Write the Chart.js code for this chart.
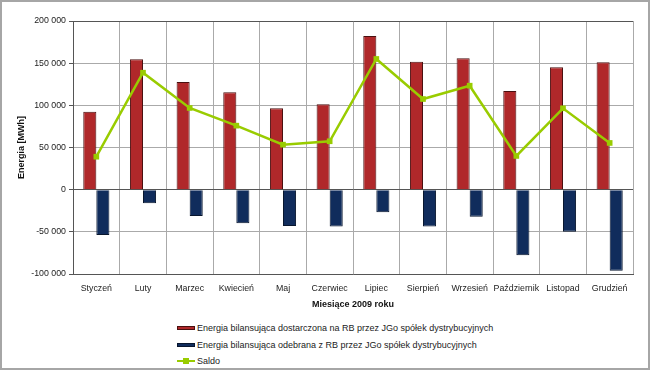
<!DOCTYPE html>
<html>
<head>
<meta charset="utf-8">
<script src="https://cdn.jsdelivr.net/npm/chart.js@4"></script>
<style>
  html, body { margin: 0; padding: 0; background: #fff; }
  #frame {
    position: relative; width: 650px; height: 370px; box-sizing: border-box;
    border: 2px solid #a6a6a6; background: #fff;
    font-family: "Liberation Sans", Arial, sans-serif;
  }
  #chart { position: absolute; left: 0; top: 0; }
  #legend { position: absolute; left: 175px; top: 318px; font-size: 9px; color: #222; }
  .item { height: 16.5px; display: flex; align-items: center; }
  .swatch { width: 18px; height: 4px; margin-right: 2px; box-sizing: border-box; }
  .line { position: relative; width: 18px; height: 2px; margin-right: 2px; }
  .line span { position: absolute; left: 6px; top: -2px; width: 6px; height: 6px; }
</style>
</head>
<body>
<div id="frame">
  <canvas id="chart" width="646" height="316"></canvas>
  <div id="legend"></div>
</div>
<script>
const months = ["Styczeń", "Luty", "Marzec", "Kwiecień", "Maj", "Czerwiec",
  "Lipiec", "Sierpień", "Wrzesień", "Październik", "Listopad", "Grudzień"];

// energia dostarczona (MWh)
const supplied = [92500, 154600, 127700, 115500, 96500, 101300, 182300, 151800, 155800, 117000, 145100, 151000];
// energia odebrana (MWh)
const received = [-53700, -16100, -31200, -39900, -43000, -43800, -26800, -43800, -32000, -77800, -49800, -96000];
// saldo
const saldo = [39100, 138700, 96900, 75900, 53400, 57400, 155000, 107500, 123300, 40000, 96500, 55400];

const seriesLabels = [
  "Energia bilansująca dostarczona na RB przez JGo spółek dystrybucyjnych",
  "Energia bilansująca odebrana z RB przez JGo spółek dystrybucyjnych",
  "Saldo"
];

const RED = "#B0282A", BLUE = "#102C5C", GREEN = "#99CC00";
const FONT = "'Liberation Sans', Arial, sans-serif";

function fmt(v) {
  const s = Math.abs(v).toString().replace(/\B(?=(\d{3})+(?!\d))/g, " ");
  return (v < 0 ? "-" : "") + s;
}

new Chart(document.getElementById("chart"), {
  type: "bar",
  data: {
    labels: months,
    datasets: [
      { label: seriesLabels[0], data: supplied, backgroundColor: RED, borderColor: "#4a1010",
        borderWidth: 1, order: 1, categoryPercentage: 0.56, barPercentage: 1 },
      { label: seriesLabels[1], data: received, backgroundColor: BLUE, borderColor: "#08162e",
        borderWidth: 1, order: 2, categoryPercentage: 0.56, barPercentage: 1 },
      { label: seriesLabels[2], data: saldo, type: "line", order: 0,
        borderColor: GREEN, backgroundColor: GREEN, borderWidth: 2.5,
        pointStyle: "rect", pointRadius: 4, pointBackgroundColor: GREEN, pointBorderWidth: 0,
        tension: 0 }
    ]
  },
  options: {
    responsive: false,
    animation: false,
    layout: { padding: { top: 19, right: 15, left: 0, bottom: 0 } },
    plugins: { legend: { display: false }, tooltip: { enabled: false } },
    scales: {
      x: {
        offset: true,
        grid: {
          offset: true, drawTicks: false,
          color: ctx => (ctx.index === 12 ? "#555" : "#aaa"),
          lineWidth: 1
        },
        border: { color: "#555" },
        ticks: { padding: 9, color: "#222", font: { family: FONT, size: 8.8 }, maxRotation: 0, autoSkip: false },
        title: { display: true, text: "Miesiące 2009 roku", color: "#111",
          font: { family: FONT, size: 9, weight: "bold" }, padding: { bottom: 8, top: 0 } },
        afterFit: s => { s.height = 44; }
      },
      y: {
        min: -100000, max: 200000,
        grid: {
          color: ctx => (ctx.tick && (ctx.tick.value === 0 || ctx.tick.value === 200000) ? "#555" : "#aaa"),
          tickLength: 4, tickColor: "#555"
        },
        border: { color: "#555" },
        ticks: { stepSize: 50000, padding: 3, color: "#222", font: { family: FONT, size: 8.8 },
          callback: v => fmt(v) },
        title: { display: true, text: "Energia [MWh]", color: "#111",
          font: { family: FONT, size: 9, weight: "bold" }, padding: { top: 14, bottom: 0 } },
        afterFit: s => { s.width = 71; }
      }
    }
  }
});

// legenda
const legend = document.getElementById("legend");
const swatches = [[RED, "#4a1010"], [BLUE, "#08162e"]];
seriesLabels.forEach((label, i) => {
  const row = document.createElement("div");
  row.className = "item";
  if (i < 2) {
    row.innerHTML = `<div class="swatch" style="background:${swatches[i][0]};border:1px solid ${swatches[i][1]}"></div>${label}`;
  } else {
    row.innerHTML = `<div class="line" style="background:${GREEN}"><span style="background:${GREEN}"></span></div>${label}`;
  }
  legend.appendChild(row);
});
</script>
</body>
</html>
